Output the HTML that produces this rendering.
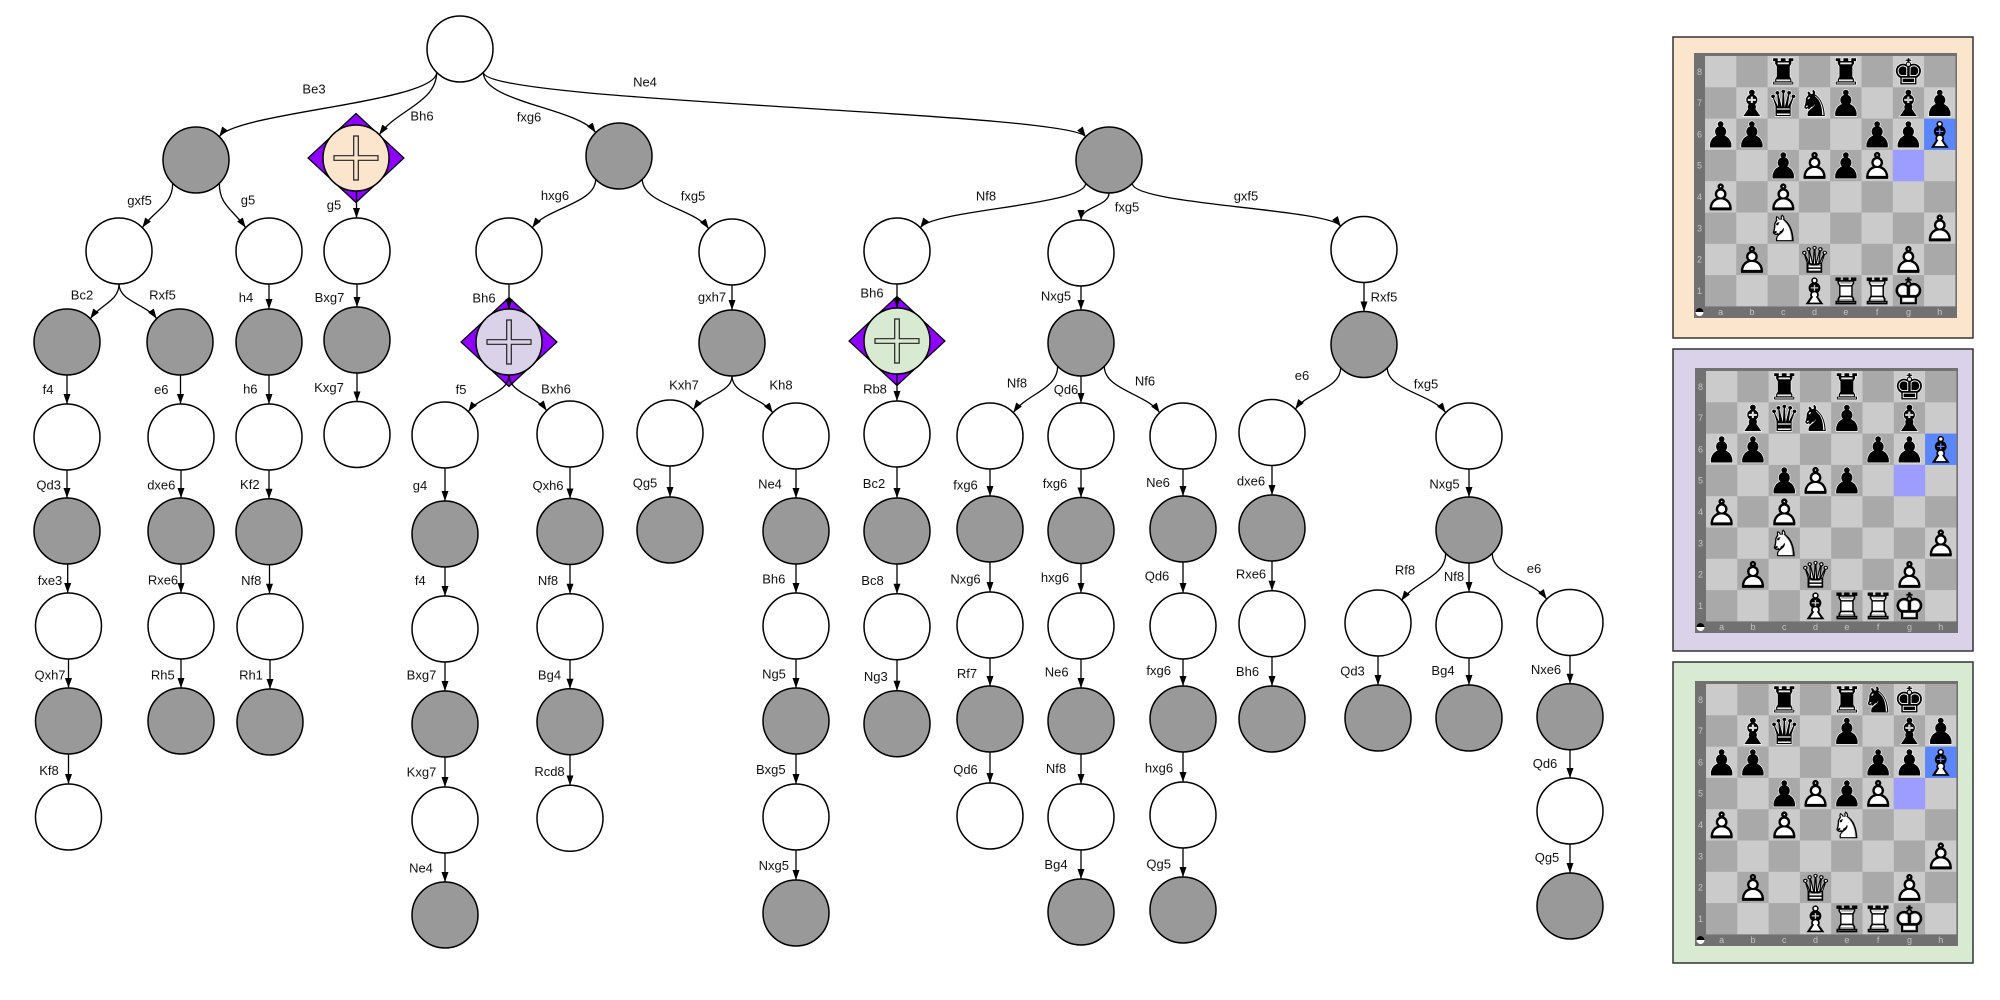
<!DOCTYPE html>
<html><head><meta charset="utf-8"><style>
html,body{margin:0;padding:0;background:#fff;}
svg{display:block;}
.lb{font-family:"Liberation Sans",Arial,sans-serif;font-size:13px;fill:#111;text-anchor:middle;}
.e path{fill:none;stroke:#000;stroke-width:1.3;marker-end:url(#ah);}
.n{stroke:#000;stroke-width:1.5;}
.g{fill:#999;}
.w{fill:#fff;}
.pc{font-family:"DejaVu Sans",sans-serif;font-size:36px;text-anchor:middle;}
.pb{fill:#000;stroke:#fff;stroke-width:1.2px;paint-order:stroke;}
.pw{fill:#fff;}
.po{fill:#000;stroke:#000;stroke-width:0.6px;}
.rk{font-family:"Liberation Sans",Arial,sans-serif;font-size:9px;fill:#c4c4c4;text-anchor:middle;}
</style></head><body>
<svg width="2000" height="1000" viewBox="0 0 2000 1000" xmlns="http://www.w3.org/2000/svg">
<defs>
<marker id="ah" markerWidth="10" markerHeight="8" refX="10" refY="4" orient="auto" markerUnits="userSpaceOnUse"><path d="M0,0.5 L10,4 L0,7.5 z" fill="#000"/></marker>
<pattern id="chk" patternUnits="userSpaceOnUse" x="11" y="3" width="62.6" height="62.6"><rect width="62.6" height="62.6" fill="#cbcbcb"/><rect x="31.3" y="0" width="31.3" height="31.3" fill="#a9a9a9"/><rect x="0" y="31.3" width="31.3" height="31.3" fill="#a9a9a9"/></pattern>
</defs>

<!-- special nodes -->
<polygon points="356,113.5 404,158 356,202.5 308,158" fill="#8f00ff" stroke="#000" stroke-width="1.2"/>
<circle cx="356" cy="158" r="33" fill="#fce5cd" class="n"/>
<path d="M353.7,136 h4.6 v19.7 h19.7 v4.6 h-19.7 v19.7 h-4.6 v-19.7 h-19.7 v-4.6 h19.7 z" fill="#fce5cd" stroke="#222" stroke-width="1.2"/>
<polygon points="509,297.5 557,342 509,386.5 461,342" fill="#8f00ff" stroke="#000" stroke-width="1.2"/>
<circle cx="509" cy="342" r="33" fill="#d9d2e9" class="n"/>
<path d="M506.7,320 h4.6 v19.7 h19.7 v4.6 h-19.7 v19.7 h-4.6 v-19.7 h-19.7 v-4.6 h19.7 z" fill="#d9d2e9" stroke="#222" stroke-width="1.2"/>
<polygon points="897,296.5 945,341 897,385.5 849,341" fill="#8f00ff" stroke="#000" stroke-width="1.2"/>
<circle cx="897" cy="341" r="33" fill="#d9ead3" class="n"/>
<path d="M894.7,319 h4.6 v19.7 h19.7 v4.6 h-19.7 v19.7 h-4.6 v-19.7 h-19.7 v-4.6 h19.7 z" fill="#d9ead3" stroke="#222" stroke-width="1.2"/>

<!-- nodes -->
<g class="n">
<circle cx="460" cy="49" r="33" class="w"/>
<circle cx="196" cy="160" r="33" class="g"/>
<circle cx="619" cy="156" r="33" class="g"/>
<circle cx="1109" cy="160" r="33" class="g"/>
<circle cx="119" cy="251" r="33" class="w"/>
<circle cx="269" cy="251" r="33" class="w"/>
<circle cx="357" cy="251" r="33" class="w"/>
<circle cx="509" cy="251" r="33" class="w"/>
<circle cx="732" cy="252" r="33" class="w"/>
<circle cx="897" cy="251" r="33" class="w"/>
<circle cx="1081" cy="253" r="33" class="w"/>
<circle cx="1364" cy="249.5" r="33" class="w"/>
<!-- col 67 -->
<circle cx="67" cy="342" r="33" class="g"/>
<circle cx="67" cy="437" r="33" class="w"/>
<circle cx="67" cy="531" r="33" class="g"/>
<circle cx="68.5" cy="626" r="33" class="w"/>
<circle cx="68.5" cy="721" r="33" class="g"/>
<circle cx="68.5" cy="817" r="33" class="w"/>
<!-- col 181 -->
<circle cx="180" cy="342" r="33" class="g"/>
<circle cx="181" cy="437" r="33" class="w"/>
<circle cx="181" cy="531" r="33" class="g"/>
<circle cx="181" cy="626" r="33" class="w"/>
<circle cx="181" cy="721" r="33" class="g"/>
<!-- col 269 -->
<circle cx="269" cy="342" r="33" class="g"/>
<circle cx="269" cy="437" r="33" class="w"/>
<circle cx="269" cy="531.7" r="33" class="g"/>
<circle cx="270" cy="626.7" r="33" class="w"/>
<circle cx="270" cy="722" r="33" class="g"/>
<!-- col 357 -->
<circle cx="357" cy="340" r="33" class="g"/>
<circle cx="357" cy="434.5" r="33" class="w"/>
<!-- col 445 -->
<circle cx="445" cy="435" r="33" class="w"/>
<circle cx="445" cy="534" r="33" class="g"/>
<circle cx="445" cy="629" r="33" class="w"/>
<circle cx="445" cy="724" r="33" class="g"/>
<circle cx="445" cy="820" r="33" class="w"/>
<circle cx="445" cy="915" r="33" class="g"/>
<!-- col 570 -->
<circle cx="570" cy="434" r="33" class="w"/>
<circle cx="570" cy="531.5" r="33" class="g"/>
<circle cx="570" cy="626.7" r="33" class="w"/>
<circle cx="570" cy="721.7" r="33" class="g"/>
<circle cx="570" cy="818.3" r="33" class="w"/>
<!-- col 670 -->
<circle cx="670" cy="433" r="33" class="w"/>
<circle cx="670" cy="530" r="33" class="g"/>
<!-- col 732 -->
<circle cx="732" cy="343" r="33" class="g"/>
<!-- col 796 -->
<circle cx="796" cy="436" r="33" class="w"/>
<circle cx="796" cy="531" r="33" class="g"/>
<circle cx="796" cy="626" r="33" class="w"/>
<circle cx="796" cy="721" r="33" class="g"/>
<circle cx="796" cy="817" r="33" class="w"/>
<circle cx="796" cy="913" r="33" class="g"/>
<!-- col 897 -->
<circle cx="897" cy="434" r="33" class="w"/>
<circle cx="897" cy="531" r="33" class="g"/>
<circle cx="897" cy="626.7" r="33" class="w"/>
<circle cx="897" cy="723.7" r="33" class="g"/>
<!-- col 990 -->
<circle cx="990" cy="436" r="33" class="w"/>
<circle cx="990" cy="529" r="33" class="g"/>
<circle cx="990" cy="625" r="33" class="w"/>
<circle cx="990" cy="719" r="33" class="g"/>
<circle cx="990" cy="816" r="33" class="w"/>
<!-- col 1081 -->
<circle cx="1081" cy="343" r="33" class="g"/>
<circle cx="1081" cy="436" r="33" class="w"/>
<circle cx="1081" cy="530.5" r="33" class="g"/>
<circle cx="1081" cy="626" r="33" class="w"/>
<circle cx="1081" cy="721" r="33" class="g"/>
<circle cx="1081" cy="817" r="33" class="w"/>
<circle cx="1081" cy="912" r="33" class="g"/>
<!-- col 1183 -->
<circle cx="1183" cy="436" r="33" class="w"/>
<circle cx="1183" cy="529" r="33" class="g"/>
<circle cx="1183" cy="626" r="33" class="w"/>
<circle cx="1183" cy="719" r="33" class="g"/>
<circle cx="1183" cy="815" r="33" class="w"/>
<circle cx="1183" cy="910" r="33" class="g"/>
<!-- col 1272 -->
<circle cx="1272" cy="432.5" r="33" class="w"/>
<circle cx="1272" cy="528" r="33" class="g"/>
<circle cx="1272" cy="623.7" r="33" class="w"/>
<circle cx="1272" cy="719" r="33" class="g"/>
<!-- col 1364 -->
<circle cx="1364" cy="344.5" r="33" class="g"/>
<!-- col 1378 -->
<circle cx="1378" cy="623" r="33" class="w"/>
<circle cx="1378" cy="718" r="33" class="g"/>
<!-- col 1469 -->
<circle cx="1469" cy="436" r="33" class="w"/>
<circle cx="1469" cy="530" r="33" class="g"/>
<circle cx="1469" cy="625" r="33" class="w"/>
<circle cx="1469" cy="718" r="33" class="g"/>
<!-- col 1570 -->
<circle cx="1570" cy="622.5" r="33" class="w"/>
<circle cx="1570" cy="716.7" r="33" class="g"/>
<circle cx="1570" cy="811" r="33" class="w"/>
<circle cx="1570" cy="906" r="33" class="g"/>
</g>

<!-- edges -->
<g class="e">
<path d="M436.67,72.33 C436.67,102.33 236.55,112.1 219.33,136.67"/>
<path d="M436.67,72.33 C436.67,102.33 396.55,110.1 379.33,134.67"/>
<path d="M483.33,72.33 C483.33,102.33 578.45,108.1 595.67,132.67"/>
<path d="M483.33,72.33 C483.33,102.33 1068.45,112.1 1085.67,136.67"/>
<path d="M172.67,183.33 C172.67,205.5 155.06,209.51 142.33,227.67"/>
<path d="M219.33,183.33 C219.33,205.5 232.94,209.51 245.67,227.67"/>
<path d="M119,284 C119,301.33 100.28,304.47 90.33,318.67"/>
<path d="M119,284 C119,301.33 146.72,304.47 156.67,318.67"/>
<path d="M595.67,179.33 C595.67,203.5 546.2,207.88 532.33,227.67"/>
<path d="M642.33,179.33 C642.33,204 694.51,208.47 708.67,228.67"/>
<path d="M1085.67,183.33 C1085.67,205.5 933.06,209.51 920.33,227.67"/>
<path d="M1109,193 C1109,206.5 1081,206.5 1081,220"/>
<path d="M1132.33,183.33 C1132.33,204.75 1328.38,208.63 1340.67,226.17"/>
<path d="M509,375 C509,393.33 478.85,396.66 468.33,411.67"/>
<path d="M509,375 C509,392.83 536.43,396.07 546.67,410.67"/>
<path d="M732,376 C732,392.83 702.99,395.89 693.33,409.67"/>
<path d="M732,376 C732,394.33 762.15,397.66 772.67,412.67"/>
<path d="M1057.67,366.33 C1057.67,389.5 1026.63,393.69 1013.33,412.67"/>
<path d="M1104.33,366.33 C1104.33,389.5 1146.37,393.69 1159.67,412.67"/>
<path d="M1340.67,367.83 C1340.67,388.5 1307.19,392.24 1295.33,409.17"/>
<path d="M1387.33,367.83 C1387.33,390.25 1432.8,394.31 1445.67,412.67"/>
<path d="M1445.67,553.33 C1445.67,577 1414.91,581.29 1401.33,600.67"/>
<path d="M1492.33,553.33 C1492.33,577 1533.09,579.79 1546.67,599.17"/>
<!-- vertical -->
<path d="M67,375V404"/><path d="M67,470V498"/><path d="M67.7,564V593"/><path d="M68.5,659V688"/><path d="M68.5,754V784"/>
<path d="M180.5,375V404"/><path d="M181,470V498"/><path d="M181,564V593"/><path d="M181,659V688"/>
<path d="M269,284V309"/><path d="M269,375V404"/><path d="M269,470V498.7"/><path d="M269.5,564.7V593.7"/><path d="M270,659.7V689"/>
<path d="M356.5,191V218"/><path d="M357,284V307"/><path d="M357,373V401.5"/>
<path d="M445,468V501"/><path d="M445,567V596"/><path d="M445,662V691"/><path d="M445,757V787"/><path d="M445,853V882"/>
<path d="M509,284V309"/>
<path d="M570,467V498.5"/><path d="M570,564.5V593.7"/><path d="M570,659.7V688.7"/><path d="M570,754.7V785.3"/>
<path d="M670,466V497"/>
<path d="M732,285V310"/>
<path d="M796,469V498"/><path d="M796,564V593"/><path d="M796,659V688"/><path d="M796,754V784"/><path d="M796,850V880"/>
<path d="M897,284V308"/><path d="M897,374V401"/><path d="M897,467V498"/><path d="M897,564V593.7"/><path d="M897,659.7V690.7"/>
<path d="M990,469V496"/><path d="M990,562V592"/><path d="M990,658V686"/><path d="M990,752V783"/>
<path d="M1081,286V310"/><path d="M1081,376V403"/><path d="M1081,469V497.5"/><path d="M1081,563.5V593"/><path d="M1081,659V688"/><path d="M1081,754V784"/><path d="M1081,850V879"/>
<path d="M1183,469V496"/><path d="M1183,562V593"/><path d="M1183,659V686"/><path d="M1183,752V782"/><path d="M1183,848V877"/>
<path d="M1272,465.5V495"/><path d="M1272,561V590.7"/><path d="M1272,656.7V686"/>
<path d="M1364,282.5V311.5"/>
<path d="M1378,656V685"/>
<path d="M1469,469V497"/><path d="M1469,563V592"/><path d="M1469,658V685"/>
<path d="M1570,655.5V683.7"/><path d="M1570,749.7V778"/><path d="M1570,844V873"/>
</g>

<!-- labels -->
<g class="lb">
<text x="314" y="93.5">Be3</text>
<text x="422" y="120.5">Bh6</text>
<text x="529" y="121.5">fxg6</text>
<text x="645" y="86.5">Ne4</text>
<text x="139.6" y="205">gxf5</text>
<text x="248" y="204.5">g5</text>
<text x="334" y="209.5">g5</text>
<text x="555" y="200">hxg6</text>
<text x="693" y="200.5">fxg5</text>
<text x="986" y="200.5">Nf8</text>
<text x="1127" y="211.5">fxg5</text>
<text x="1246" y="200.5">gxf5</text>
<text x="82" y="299.5">Bc2</text>
<text x="162.5" y="299.5">Rxf5</text>
<text x="246" y="302">h4</text>
<text x="329.5" y="302">Bxg7</text>
<text x="484" y="302.5">Bh6</text>
<text x="712" y="301.5">gxh7</text>
<text x="872" y="297.5">Bh6</text>
<text x="1056" y="300.5">Nxg5</text>
<text x="1384" y="301.5">Rxf5</text>
<text x="48" y="394">f4</text>
<text x="161.3" y="394">e6</text>
<text x="250.3" y="393.3">h6</text>
<text x="329" y="392">Kxg7</text>
<text x="461" y="394">f5</text>
<text x="556" y="393.5">Bxh6</text>
<text x="684" y="389.5">Kxh7</text>
<text x="781" y="389.5">Kh8</text>
<text x="875" y="393.5">Rb8</text>
<text x="1017" y="387.5">Nf8</text>
<text x="1066" y="394">Qd6</text>
<text x="1145" y="385.5">Nf6</text>
<text x="1302" y="380">e6</text>
<text x="1426" y="388.5">fxg5</text>
<text x="48.7" y="489.3">Qd3</text>
<text x="161.3" y="489.3">dxe6</text>
<text x="249.8" y="489">Kf2</text>
<text x="420" y="490">g4</text>
<text x="548" y="490">Qxh6</text>
<text x="645" y="487.5">Qg5</text>
<text x="770" y="488.5">Ne4</text>
<text x="874" y="488">Bc2</text>
<text x="965.5" y="489.5">fxg6</text>
<text x="1055" y="488">fxg6</text>
<text x="1158" y="487">Ne6</text>
<text x="1251" y="485.5">dxe6</text>
<text x="1444.5" y="488.5">Nxg5</text>
<text x="50" y="585">fxe3</text>
<text x="163" y="584.3">Rxe6</text>
<text x="251.3" y="585">Nf8</text>
<text x="420.3" y="585">f4</text>
<text x="548" y="585">Nf8</text>
<text x="773.8" y="583.3">Bh6</text>
<text x="872.5" y="585">Bc8</text>
<text x="965.5" y="583.5">Nxg6</text>
<text x="1055" y="582">hxg6</text>
<text x="1157" y="580.5">Qd6</text>
<text x="1251" y="578.5">Rxe6</text>
<text x="1405" y="574.5">Rf8</text>
<text x="1454" y="581">Nf8</text>
<text x="1534" y="573">e6</text>
<text x="50" y="679.3">Qxh7</text>
<text x="162.8" y="679.3">Rh5</text>
<text x="251" y="679.3">Rh1</text>
<text x="421.5" y="679.3">Bxg7</text>
<text x="549.5" y="679.3">Bg4</text>
<text x="774" y="678.3">Ng5</text>
<text x="875.8" y="681">Ng3</text>
<text x="967" y="678">Rf7</text>
<text x="1056.7" y="676.5">Ne6</text>
<text x="1158.7" y="675">fxg6</text>
<text x="1247.5" y="676">Bh6</text>
<text x="1352.5" y="675.5">Qd3</text>
<text x="1443" y="675">Bg4</text>
<text x="1546" y="674">Nxe6</text>
<text x="49" y="775">Kf8</text>
<text x="421.5" y="776.7">Kxg7</text>
<text x="549.5" y="776">Rcd8</text>
<text x="770.8" y="774">Bxg5</text>
<text x="965.5" y="774">Qd6</text>
<text x="1056" y="773">Nf8</text>
<text x="1159" y="772.3">hxg6</text>
<text x="1545" y="768">Qd6</text>
<text x="421" y="872.7">Ne4</text>
<text x="773.8" y="870">Nxg5</text>
<text x="1056" y="869">Bg4</text>
<text x="1158.7" y="868.5">Qg5</text>
<text x="1547" y="862">Qg5</text>
</g>

<!-- boxes -->
<rect x="1673" y="37" width="300" height="301" fill="#fce5cd" stroke="#333" stroke-width="1.5"/>
<rect x="1673" y="349" width="300" height="302" fill="#d9d2e9" stroke="#333" stroke-width="1.5"/>
<rect x="1673" y="662" width="300" height="301" fill="#d9ead3" stroke="#333" stroke-width="1.5"/>

<!-- board 1 -->
<g transform="translate(1694,53)">
<rect width="263" height="265" fill="#717171"/>
<rect x="11" y="3" width="250.4" height="250.4" fill="url(#chk)"/>
<rect x="230.1" y="65.6" width="31.3" height="31.3" fill="#5b86fa"/>
<rect x="198.8" y="96.9" width="31.3" height="31.3" fill="#9d9dff"/>
<g class="rk"><text x="5.5" y="21.8">8</text><text x="5.5" y="53.1">7</text><text x="5.5" y="84.4">6</text><text x="5.5" y="115.7">5</text><text x="5.5" y="147">4</text><text x="5.5" y="178.3">3</text><text x="5.5" y="209.6">2</text><text x="5.5" y="240.9">1</text>
<text x="26.65" y="262">a</text><text x="57.95" y="262">b</text><text x="89.25" y="262">c</text><text x="120.55" y="262">d</text><text x="151.85" y="262">e</text><text x="183.15" y="262">f</text><text x="214.45" y="262">g</text><text x="245.75" y="262">h</text></g>
<circle cx="5.5" cy="259" r="4" fill="#fff"/><path d="M1.5,259 A4,4 0 0 1 9.5,259 Z" fill="#000"/>
<g class="pc" transform="translate(0,3)">
<text class="pb" x="89.25" y="28.65">♜</text><text class="pb" x="151.85" y="28.65">♜</text><text class="pb" x="214.45" y="28.65">♚</text>
<text class="pb" x="57.95" y="59.95">♝</text><text class="pb" x="89.25" y="59.95">♛</text><text class="pb" x="120.55" y="59.95">♞</text><text class="pb" x="151.85" y="59.95">♟</text><text class="pb" x="214.45" y="59.95">♝</text><text class="pb" x="245.75" y="59.95">♟</text>
<text class="pb" x="26.65" y="91.25">♟</text><text class="pb" x="57.95" y="91.25">♟</text><text class="pb" x="183.15" y="91.25">♟</text><text class="pb" x="214.45" y="91.25">♟</text>
<text class="pb" x="89.25" y="122.55">♟</text><text class="pb" x="151.85" y="122.55">♟</text>
<text class="pw" x="245.75" y="91.25">♝</text><text class="po" x="245.75" y="91.25">♗</text>
<text class="pw" x="120.55" y="122.55">♟</text><text class="po" x="120.55" y="122.55">♙</text>
<text class="pw" x="183.15" y="122.55">♟</text><text class="po" x="183.15" y="122.55">♙</text>
<text class="pw" x="26.65" y="153.85">♟</text><text class="po" x="26.65" y="153.85">♙</text>
<text class="pw" x="89.25" y="153.85">♟</text><text class="po" x="89.25" y="153.85">♙</text>
<text class="pw" x="89.25" y="185.15">♞</text><text class="po" x="89.25" y="185.15">♘</text>
<text class="pw" x="245.75" y="185.15">♟</text><text class="po" x="245.75" y="185.15">♙</text>
<text class="pw" x="57.95" y="216.45">♟</text><text class="po" x="57.95" y="216.45">♙</text>
<text class="pw" x="120.55" y="216.45">♛</text><text class="po" x="120.55" y="216.45">♕</text>
<text class="pw" x="214.45" y="216.45">♟</text><text class="po" x="214.45" y="216.45">♙</text>
<text class="pw" x="120.55" y="247.75">♝</text><text class="po" x="120.55" y="247.75">♗</text>
<text class="pw" x="151.85" y="247.75">♜</text><text class="po" x="151.85" y="247.75">♖</text>
<text class="pw" x="183.15" y="247.75">♜</text><text class="po" x="183.15" y="247.75">♖</text>
<text class="pw" x="214.45" y="247.75">♚</text><text class="po" x="214.45" y="247.75">♔</text>
</g>
</g>

<!-- board 2 -->
<g transform="translate(1695,368)">
<rect width="263" height="265" fill="#717171"/>
<rect x="11" y="3" width="250.4" height="250.4" fill="url(#chk)"/>
<rect x="230.1" y="65.6" width="31.3" height="31.3" fill="#5b86fa"/>
<rect x="198.8" y="96.9" width="31.3" height="31.3" fill="#9d9dff"/>
<g class="rk"><text x="5.5" y="21.8">8</text><text x="5.5" y="53.1">7</text><text x="5.5" y="84.4">6</text><text x="5.5" y="115.7">5</text><text x="5.5" y="147">4</text><text x="5.5" y="178.3">3</text><text x="5.5" y="209.6">2</text><text x="5.5" y="240.9">1</text>
<text x="26.65" y="262">a</text><text x="57.95" y="262">b</text><text x="89.25" y="262">c</text><text x="120.55" y="262">d</text><text x="151.85" y="262">e</text><text x="183.15" y="262">f</text><text x="214.45" y="262">g</text><text x="245.75" y="262">h</text></g>
<circle cx="5.5" cy="259" r="4" fill="#fff"/><path d="M1.5,259 A4,4 0 0 1 9.5,259 Z" fill="#000"/>
<g class="pc" transform="translate(0,3)">
<text class="pb" x="89.25" y="28.65">♜</text><text class="pb" x="151.85" y="28.65">♜</text><text class="pb" x="214.45" y="28.65">♚</text>
<text class="pb" x="57.95" y="59.95">♝</text><text class="pb" x="89.25" y="59.95">♛</text><text class="pb" x="120.55" y="59.95">♞</text><text class="pb" x="151.85" y="59.95">♟</text><text class="pb" x="214.45" y="59.95">♝</text>
<text class="pb" x="26.65" y="91.25">♟</text><text class="pb" x="57.95" y="91.25">♟</text><text class="pb" x="183.15" y="91.25">♟</text><text class="pb" x="214.45" y="91.25">♟</text>
<text class="pb" x="89.25" y="122.55">♟</text><text class="pb" x="151.85" y="122.55">♟</text>
<text class="pw" x="245.75" y="91.25">♝</text><text class="po" x="245.75" y="91.25">♗</text>
<text class="pw" x="120.55" y="122.55">♟</text><text class="po" x="120.55" y="122.55">♙</text>
<text class="pw" x="26.65" y="153.85">♟</text><text class="po" x="26.65" y="153.85">♙</text>
<text class="pw" x="89.25" y="153.85">♟</text><text class="po" x="89.25" y="153.85">♙</text>
<text class="pw" x="89.25" y="185.15">♞</text><text class="po" x="89.25" y="185.15">♘</text>
<text class="pw" x="245.75" y="185.15">♟</text><text class="po" x="245.75" y="185.15">♙</text>
<text class="pw" x="57.95" y="216.45">♟</text><text class="po" x="57.95" y="216.45">♙</text>
<text class="pw" x="120.55" y="216.45">♛</text><text class="po" x="120.55" y="216.45">♕</text>
<text class="pw" x="214.45" y="216.45">♟</text><text class="po" x="214.45" y="216.45">♙</text>
<text class="pw" x="120.55" y="247.75">♝</text><text class="po" x="120.55" y="247.75">♗</text>
<text class="pw" x="151.85" y="247.75">♜</text><text class="po" x="151.85" y="247.75">♖</text>
<text class="pw" x="183.15" y="247.75">♜</text><text class="po" x="183.15" y="247.75">♖</text>
<text class="pw" x="214.45" y="247.75">♚</text><text class="po" x="214.45" y="247.75">♔</text>
</g>
</g>

<!-- board 3 -->
<g transform="translate(1695,681)">
<rect width="263" height="265" fill="#717171"/>
<rect x="11" y="3" width="250.4" height="250.4" fill="url(#chk)"/>
<rect x="230.1" y="65.6" width="31.3" height="31.3" fill="#5b86fa"/>
<rect x="198.8" y="96.9" width="31.3" height="31.3" fill="#9d9dff"/>
<g class="rk"><text x="5.5" y="21.8">8</text><text x="5.5" y="53.1">7</text><text x="5.5" y="84.4">6</text><text x="5.5" y="115.7">5</text><text x="5.5" y="147">4</text><text x="5.5" y="178.3">3</text><text x="5.5" y="209.6">2</text><text x="5.5" y="240.9">1</text>
<text x="26.65" y="262">a</text><text x="57.95" y="262">b</text><text x="89.25" y="262">c</text><text x="120.55" y="262">d</text><text x="151.85" y="262">e</text><text x="183.15" y="262">f</text><text x="214.45" y="262">g</text><text x="245.75" y="262">h</text></g>
<circle cx="5.5" cy="259" r="4" fill="#fff"/><path d="M1.5,259 A4,4 0 0 1 9.5,259 Z" fill="#000"/>
<g class="pc" transform="translate(0,3)">
<text class="pb" x="89.25" y="28.65">♜</text><text class="pb" x="151.85" y="28.65">♜</text><text class="pb" x="183.15" y="28.65">♞</text><text class="pb" x="214.45" y="28.65">♚</text>
<text class="pb" x="57.95" y="59.95">♝</text><text class="pb" x="89.25" y="59.95">♛</text><text class="pb" x="151.85" y="59.95">♟</text><text class="pb" x="214.45" y="59.95">♝</text><text class="pb" x="245.75" y="59.95">♟</text>
<text class="pb" x="26.65" y="91.25">♟</text><text class="pb" x="57.95" y="91.25">♟</text><text class="pb" x="183.15" y="91.25">♟</text><text class="pb" x="214.45" y="91.25">♟</text>
<text class="pb" x="89.25" y="122.55">♟</text><text class="pb" x="151.85" y="122.55">♟</text>
<text class="pw" x="245.75" y="91.25">♝</text><text class="po" x="245.75" y="91.25">♗</text>
<text class="pw" x="120.55" y="122.55">♟</text><text class="po" x="120.55" y="122.55">♙</text>
<text class="pw" x="183.15" y="122.55">♟</text><text class="po" x="183.15" y="122.55">♙</text>
<text class="pw" x="26.65" y="153.85">♟</text><text class="po" x="26.65" y="153.85">♙</text>
<text class="pw" x="89.25" y="153.85">♟</text><text class="po" x="89.25" y="153.85">♙</text>
<text class="pw" x="151.85" y="153.85">♞</text><text class="po" x="151.85" y="153.85">♘</text>
<text class="pw" x="245.75" y="185.15">♟</text><text class="po" x="245.75" y="185.15">♙</text>
<text class="pw" x="57.95" y="216.45">♟</text><text class="po" x="57.95" y="216.45">♙</text>
<text class="pw" x="120.55" y="216.45">♛</text><text class="po" x="120.55" y="216.45">♕</text>
<text class="pw" x="214.45" y="216.45">♟</text><text class="po" x="214.45" y="216.45">♙</text>
<text class="pw" x="120.55" y="247.75">♝</text><text class="po" x="120.55" y="247.75">♗</text>
<text class="pw" x="151.85" y="247.75">♜</text><text class="po" x="151.85" y="247.75">♖</text>
<text class="pw" x="183.15" y="247.75">♜</text><text class="po" x="183.15" y="247.75">♖</text>
<text class="pw" x="214.45" y="247.75">♚</text><text class="po" x="214.45" y="247.75">♔</text>
</g>
</g>
</svg>
</body></html>
